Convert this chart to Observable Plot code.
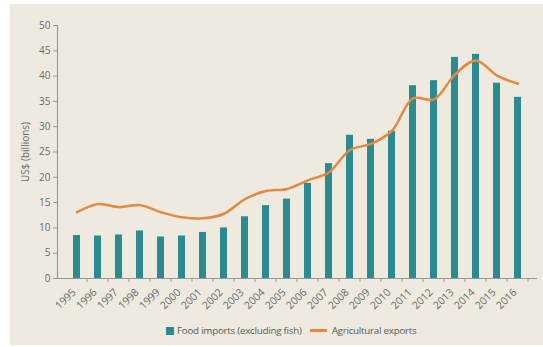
<!DOCTYPE html>
<html><head><meta charset="utf-8">
<script src="https://cdn.jsdelivr.net/npm/d3@7"></script>
<script src="https://cdn.jsdelivr.net/npm/@observablehq/plot@0.6"></script>
<style>
body{margin:0;background:#fff;width:543px;height:347px;position:relative;overflow:hidden;font-family:"Open Sans",sans-serif}
#panel{position:absolute;left:10px;top:4px;width:533px;height:341px;background:#eeeae0}
#chart{position:absolute;left:0;top:0}
#legend{position:absolute;top:324px;left:166px;font-size:9.8px;color:#5a5a5a;display:flex;align-items:center;white-space:nowrap;letter-spacing:-0.25px}
#legend .sw{display:inline-block;width:8px;height:8px;background:#2b8b90;margin-right:3px}
#legend .ln{display:inline-block;width:17px;height:2.5px;background:#e4893f;margin:0 5px 0 8px}
</style></head><body>
<div id="panel"></div><div id="chart"></div>
<div id="legend"><span class="sw"></span><span>Food imports (excluding fish)</span><span class="ln"></span><span>Agricultural exports</span></div>
<script>
const years = ["1995","1996","1997","1998","1999","2000","2001","2002","2003","2004","2005","2006","2007","2008","2009","2010","2011","2012","2013","2014","2015","2016"];
const foodImports = [8.5,8.4,8.6,9.4,8.2,8.4,9.1,10.0,12.2,14.4,15.7,18.8,22.7,28.3,27.5,29.1,38.1,39.1,43.7,44.3,38.6,35.8];
const agExports = [13.1,14.7,14.1,14.5,13.1,12.1,11.9,12.8,15.7,17.3,17.7,19.4,21.0,25.4,26.6,29.2,35.6,35.4,40.3,43.1,40.1,38.5];
const yTicks = [0,5,10,15,20,25,30,35,40,45,50];
const data = years.map((y,i)=>({year:y, imports: foodImports[i], exports: agExports[i]}));
const plot = Plot.plot({
  width:543, height:318, marginLeft:57, marginRight:6, marginTop:25, marginBottom:40,
  style:{background:"transparent", fontFamily:"Open Sans", fontSize:"10px", color:"#6a6a6a"},
  x:{type:"band", domain: years, paddingInner:0.68, paddingOuter:0.3},
  y:{domain:[0,50]},
  marks:[
    Plot.barY(data,{x:"year", y:"imports", fill:"#2b8b90"}),
    Plot.line(data,{x:"year", y:"exports", stroke:"#e4893f", strokeWidth:2.5, curve:"catmull-rom"}),
    Plot.ruleY([0],{stroke:"#999", strokeWidth:1.2}),
    Plot.frame({anchor:"left", stroke:"#999", strokeWidth:1.2}),
    Plot.axisY({ticks:yTicks, tickSize:4, tickPadding:3, stroke:"#999", fontSize:10, label:"US$ (billions)", labelAnchor:"center", labelOffset:36, labelArrow:"none"}),
    Plot.axisX({tickSize:4, text:null, dx:10, stroke:"#999", label:null}),
    Plot.axisX({tickSize:0, tickRotate:-45, tickPadding:12, dx:-3, fontSize:10.5, label:null})
  ]
});
document.getElementById("chart").appendChild(plot);
</script>
</body></html>
